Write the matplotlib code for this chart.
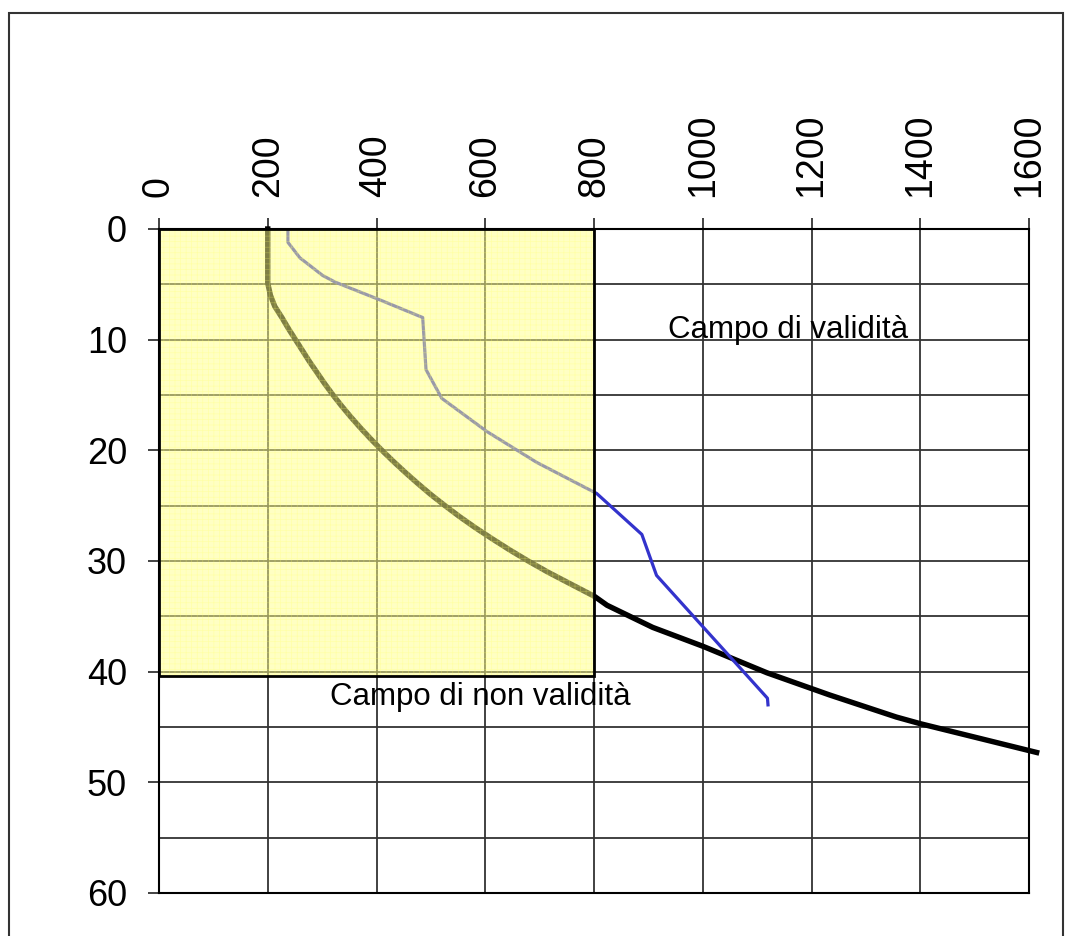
import matplotlib
matplotlib.use("Agg")
import matplotlib.pyplot as plt
from matplotlib.patches import Rectangle
from matplotlib.ticker import MultipleLocator

plt.rcParams['font.family'] = ['Liberation Sans', 'DejaVu Sans']

# Black curve (x value, depth)
black_x = [200, 200, 205, 213, 226, 238, 251, 264, 277, 291, 305, 320, 336, 353, 371,
           390, 410, 431, 453, 476, 500, 526, 553, 582, 613, 645, 679, 715, 754, 801,
           824, 908, 1000, 1118, 1233, 1356, 1400, 1614]
black_y = [0, 4.9, 6, 7, 8, 9, 10, 11, 12, 13, 14, 15, 16, 17, 18,
           19, 20, 21, 22, 23, 24, 25, 26, 27, 28, 29, 30, 31, 32, 33.2,
           34.0, 36.0, 37.7, 40.1, 42.1, 44.1, 44.7, 47.3]

# Blue curve
blue_x = [237, 237, 259, 301, 324, 406, 485, 491, 520, 603, 695, 805, 888, 915, 1119, 1120]
blue_y = [0, 1.2, 2.6, 4.2, 4.8, 6.4, 8.0, 12.7, 15.3, 18.3, 21.1, 23.9, 27.6, 31.3, 42.4, 43.0]

# Non-validity field
field_x = [0, 800]
field_y = [0, 40.4]

x_ticks = [0, 200, 400, 600, 800, 1000, 1200, 1400, 1600]
y_ticks = [0, 10, 20, 30, 40, 50, 60]

W, H = 1065, 936
fig = plt.figure(figsize=(W / 100, H / 100), dpi=100)
ax = fig.add_axes([159 / W, 1 - 893 / H, (1029 - 159) / W, (893 - 229) / H])

ax.set_xlim(0, 1600)
ax.set_ylim(60, 0)

ax.xaxis.tick_top()
ax.set_xticks(x_ticks)
ax.set_xticklabels([str(v) for v in x_ticks], rotation=90, fontsize=27)
ax.set_yticks(y_ticks)
ax.set_yticklabels([str(v) for v in y_ticks], fontsize=26)
ax.yaxis.set_minor_locator(MultipleLocator(5))
ax.tick_params(axis='both', which='major', length=8, width=1.2, color='#222222', pad=15)
ax.tick_params(axis='y', which='minor', length=0)

ax.grid(True, which='both', axis='y', color='#333333', lw=1.3, zorder=1)
ax.grid(True, which='major', axis='x', color='#333333', lw=1.3, zorder=1)
ax.set_axisbelow(True)

ax.plot(black_x, black_y, color='black', lw=3.9, zorder=3, clip_on=False,
        solid_joinstyle='round')
ax.plot(blue_x, blue_y, color='#3333cc', lw=2.3, zorder=3)

# yellow semi-transparent field with fine grid texture
plt.rcParams['hatch.linewidth'] = 0.5
w = field_x[1] - field_x[0]
h = field_y[1] - field_y[0]
ax.add_patch(Rectangle((field_x[0], field_y[0]), w, h,
                       facecolor='#ffff88', alpha=0.5, edgecolor='none', lw=0, zorder=4))
ax.add_patch(Rectangle((field_x[0], field_y[0]), w, h, alpha=0.3,
                       facecolor='none', hatch='+++', edgecolor='#ffff66', lw=0, zorder=4.5))
ax.add_patch(Rectangle((field_x[0], field_y[0]), w, h,
                       facecolor='none', edgecolor='black', lw=2.0, zorder=5))

ax.text(936, 9.85, "Campo di validità", fontsize=22.5, ha='left', va='baseline', zorder=6)
ax.text(314, 43.0, "Campo di non validità", fontsize=22.5, ha='left', va='baseline', zorder=6)

for s in ax.spines.values():
    s.set_color('black')
    s.set_linewidth(1.5)

# outer frame
fig.add_artist(Rectangle((9 / W, -0.05), (1063 - 9) / W, 1.05 - 13 / H,
                         transform=fig.transFigure, fill=False,
                         edgecolor='#333333', lw=1.5))

fig.savefig("out.png", dpi=100)
